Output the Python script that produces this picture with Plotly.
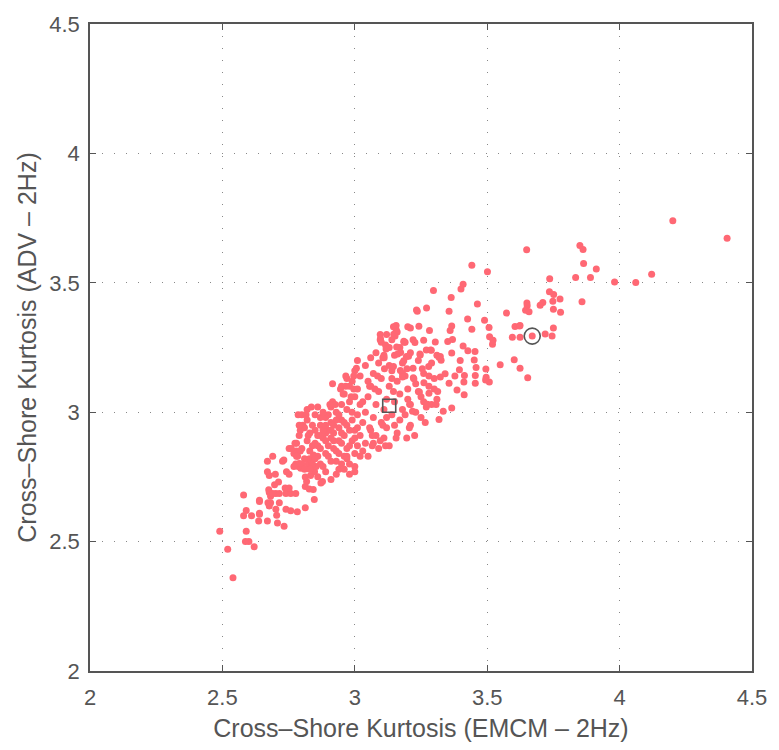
import plotly.graph_objects as go

# ---- data ----
pts = [
# lower tail
(2.49,2.54),(2.52,2.47),(2.54,2.36),(2.58,2.68),(2.59,2.54),(2.60,2.50),(2.587,2.50),(2.62,2.48),
(2.58,2.60),(2.61,2.60),(2.59,2.62),(2.637,2.58),(2.64,2.66),(2.64,2.61),(2.67,2.58),(2.67,2.81),
(2.69,2.83),(2.67,2.77),(2.677,2.755),(2.70,2.76),(2.727,2.81),(2.732,2.815),(2.752,2.86),(2.777,2.80),
(2.787,2.79),(2.742,2.77),(2.752,2.76),(2.712,2.73),(2.697,2.72),(2.677,2.69),(2.682,2.675),(2.675,2.70),
(2.69,2.686),(2.702,2.686),(2.715,2.686),(2.74,2.686),(2.758,2.686),(2.777,2.686),(2.737,2.707),
(2.752,2.707),(2.672,2.65),(2.682,2.65),(2.677,2.638),(2.64,2.655),(2.64,2.606),(2.705,2.602),
(2.708,2.572),(2.733,2.559),(2.702,2.625),(2.715,2.65),(2.74,2.625),(2.758,2.619),(2.783,2.615),
(2.813,2.631),(2.796,2.783),(2.79,2.802),(2.813,2.713),(2.818,2.732),(2.828,2.703),(2.843,2.701),
(2.847,2.663),(2.813,2.75),(2.833,2.755),(2.86,2.751),(2.872,2.726),(2.878,2.732),(2.848,2.77),
(2.834,2.785),(2.854,2.79),(2.824,2.80),(2.829,2.82),(2.844,2.835),(2.779,2.85),(2.794,2.85),
(2.784,2.83),(2.774,2.88),(2.794,2.93),(2.804,2.95),(2.824,2.91),
# dense core
(2.77,2.84),(2.78,2.88),(2.79,2.91),(2.80,2.86),(2.81,2.94),(2.81,2.82),(2.82,2.89),(2.82,2.97),
(2.83,2.85),(2.83,2.92),(2.84,2.80),(2.84,2.95),(2.85,2.88),(2.85,2.99),(2.86,2.83),(2.86,2.91),
(2.87,2.86),(2.87,2.95),(2.88,2.79),(2.88,2.90),(2.89,2.84),(2.89,2.98),(2.90,2.93),(2.90,2.87),
(2.91,2.81),(2.91,2.96),(2.92,2.89),(2.92,2.92),(2.93,2.85),(2.93,3.00),(2.94,2.94),(2.94,2.78),
(2.95,2.88),(2.95,2.97),(2.96,2.83),(2.96,2.91),(2.97,2.86),(2.97,3.01),(2.98,2.93),(2.98,2.80),
(2.99,2.89),(2.99,2.97),(3.00,2.84),(3.00,2.93),(3.01,2.87),(3.01,2.99),(2.80,2.80),(2.81,2.78),
(2.83,2.78),(2.85,2.82),(2.87,2.80),(2.89,2.77),(2.91,2.74),(2.93,2.76),(2.95,2.80),(2.85,2.93),
(2.87,2.98),(2.89,2.92),(2.91,2.90),(2.84,2.87),(2.88,2.93),(2.90,2.99),(2.92,2.95),(2.94,2.89),
(2.96,2.96),(2.98,2.87),(3.00,2.90),(2.79,2.95),(2.80,2.99),(2.82,3.01),(2.86,3.02),(2.88,3.00),
(2.91,3.02),(2.93,2.97),(2.95,2.92),(2.97,2.95),(2.99,3.00),(3.01,2.94),(2.86,2.87),(2.89,2.89),
(2.92,2.86),(2.94,2.84),(2.97,2.82),(2.77,2.79),(2.78,2.83),(2.76,2.86),(2.90,2.83),(2.93,2.81),
(2.96,2.78),(2.98,2.76),(3.00,2.79),(2.94,2.99),(2.95,3.03),(2.98,3.04),(3.00,3.06),(3.02,3.03),
(2.87,2.91),(2.89,2.95),(2.91,2.93),(3.00,2.77),(3.02,2.83),(2.97,2.83),
# upper core
(3.02,2.91),(3.03,2.96),(3.04,3.00),(3.04,2.88),(3.05,3.06),(3.06,2.93),(3.06,3.10),(3.07,2.98),
(3.08,3.03),(3.08,2.91),(3.09,3.08),(3.10,2.96),(3.10,3.13),(3.11,3.01),(3.12,3.05),(3.12,2.94),
(3.13,3.10),(3.14,3.16),(3.14,2.99),(3.15,3.04),(3.16,3.12),(3.16,2.92),(3.17,3.07),(3.18,3.19),
(3.18,3.01),(3.19,3.14),(3.20,3.09),(3.21,3.23),(3.21,3.03),(3.22,3.17),(3.23,3.11),(3.24,3.20),
(3.25,3.06),(3.26,3.15),(3.27,3.24),(3.28,3.10),(3.29,3.19),(3.30,3.13),(3.31,3.22),(3.03,3.04),
(3.05,3.12),(3.07,3.15),(3.09,3.19),(3.11,3.22),(3.13,3.25),(3.01,3.09),(2.99,3.12),(3.02,3.14),
(3.04,3.18),(3.06,3.21),(3.08,3.23),(3.10,3.27),(3.12,3.30),(3.14,3.28),(3.16,3.31),(3.15,3.22),
(3.17,3.25),(3.19,3.27),(3.20,3.33),(3.07,2.88),(3.09,2.86),(3.11,2.90),(3.13,2.87),(3.15,2.95),
(3.17,2.97),(3.19,2.99),(3.21,2.95),(3.23,3.00),(3.25,2.98),(3.27,3.02),(3.29,3.03),(3.31,3.05),
(3.24,3.08),(3.26,3.04),(3.28,3.14),(3.30,3.09),(3.03,2.85),(3.05,2.83),(2.98,3.10),(2.96,3.07),
(2.97,3.13),(3.00,3.16),(3.01,3.20),(2.95,3.10),(3.13,3.18),(3.22,3.28),(3.18,3.15),(3.14,3.13),
(3.20,3.05),(3.12,2.98),
# upper-left edge
(3.006,3.17),(2.996,3.14),(2.966,3.14),(2.916,3.11),(2.966,3.10),(2.946,3.09),(2.956,3.07),(2.986,3.06),
(2.996,3.09),(2.916,3.04),(2.926,3.03),(2.906,3.03),(2.836,3.02),(2.786,2.99),(2.816,2.99),(3.056,3.10),
(3.076,3.09),(3.146,3.08),(3.086,3.14),(3.096,3.28),(3.116,3.26),(3.186,3.27),(3.156,3.32),(3.236,3.39),
(3.106,3.21),(3.096,3.30),(3.146,3.33),
# below the square
(3.156,2.90),(3.196,2.90),(3.116,2.87),(3.106,2.95),(3.206,2.94),(3.226,2.91),(3.266,2.96),(3.096,2.89),
(3.066,2.87),(3.066,2.91),(3.056,2.94),
# right middle
(3.442,3.568),(3.501,3.543),(3.409,3.494),(3.401,3.476),(3.297,3.470),(3.364,3.443),(3.463,3.418),
(3.233,3.395),(3.271,3.403),(3.356,3.390),(3.573,3.383),(3.426,3.360),(3.490,3.355),(3.210,3.325),
(3.242,3.332),(3.282,3.316),(3.366,3.333),(3.360,3.316),(3.442,3.321),(3.507,3.327),(3.605,3.331),
(3.622,3.333),(3.595,3.290),(3.624,3.290),(3.185,3.274),(3.227,3.269),(3.260,3.278),(3.304,3.271),
(3.351,3.273),(3.369,3.281),(3.509,3.292),(3.522,3.278),(3.520,3.263),(3.173,3.231),(3.203,3.216),
(3.247,3.221),(3.286,3.240),(3.323,3.215),(3.366,3.229),(3.409,3.256),(3.427,3.237),(3.454,3.235),
(3.185,3.199),(3.326,3.201),(3.398,3.200),(3.451,3.202),(3.602,3.203),(3.197,3.168),(3.255,3.168),
(3.279,3.177),(3.395,3.164),(3.458,3.173),(3.549,3.183),(3.495,3.167),(3.180,3.136),(3.221,3.133),
(3.261,3.114),(3.323,3.136),(3.341,3.149),(3.378,3.140),(3.414,3.142),(3.455,3.142),(3.508,3.117),
(3.356,3.112),(3.412,3.117),(3.455,3.112),(3.244,3.078),(3.280,3.073),(3.313,3.080),(3.386,3.086),
(3.413,3.067),(3.207,3.031),(3.274,3.031),(3.307,3.030),(3.366,3.016),(3.218,3.004),(3.334,3.004),
(3.318,2.972),(3.156,3.335),(3.147,3.301),(3.152,3.294),(3.097,3.284),(3.118,3.244),(3.158,3.252),
(3.111,3.210),(3.162,3.225),(3.195,3.215),(3.246,3.225),(3.289,3.239),(3.318,3.212),(3.112,3.168),
(3.146,3.177),(3.172,3.161),(3.223,3.129),(3.496,3.135),(3.494,3.124),
# sparse right
(3.649,3.628),(3.850,3.644),(3.862,3.629),(3.864,3.575),(3.912,3.553),(3.834,3.520),(3.890,3.520),
(3.981,3.503),(4.061,3.501),(4.121,3.533),(4.406,3.672),(4.201,3.740),(3.736,3.516),(3.735,3.465),
(3.751,3.455),(3.748,3.429),(3.775,3.437),(3.858,3.427),(3.710,3.424),(3.700,3.413),(3.650,3.422),
(3.651,3.411),(3.645,3.394),(3.658,3.388),(3.750,3.398),(3.777,3.386),(3.624,3.335),(3.750,3.325),
(3.670,3.294),(3.719,3.302),(3.745,3.294),(3.624,3.170),(3.653,3.133),
]
emcm = [p[0] for p in pts]
adv = [p[1] for p in pts]

square_x, square_y = [3.13], [3.025]
circle_x, circle_y = [3.67], [3.294]

ticks = [2, 2.5, 3, 3.5, 4, 4.5]
tick_text = ["2", "2.5", "3", "3.5", "4", "4.5"]

FONT = "Liberation Sans, Arial, Helvetica, sans-serif"
GREY = "#555555"

fig = go.Figure()
fig.add_trace(go.Scatter(x=emcm, y=adv, mode="markers",
                         marker=dict(size=7, color="#ff6874", line=dict(width=0)),
                         showlegend=False, hoverinfo="skip"))
fig.add_trace(go.Scatter(x=square_x, y=square_y, mode="markers",
                         marker=dict(symbol="square-open", size=13, color=GREY,
                                     line=dict(width=1.6)), showlegend=False))
fig.add_trace(go.Scatter(x=circle_x, y=circle_y, mode="markers",
                         marker=dict(symbol="circle-open", size=16, color=GREY,
                                     line=dict(width=1.6)), showlegend=False))

axis_common = dict(
    range=[2, 4.5], tickvals=ticks, ticktext=tick_text, showgrid=True, gridcolor="#888888",
    griddash="1px,11px", gridwidth=1, zeroline=False, showline=True,
    linecolor=GREY, linewidth=1.5, mirror="ticks", ticks="inside",
    ticklen=6, tickcolor=GREY,
    tickfont=dict(family=FONT, size=22, color=GREY),
)
fig.update_xaxes(title=dict(text="Cross\u2013Shore Kurtosis (EMCM \u2013 2Hz)",
                 font=dict(family=FONT, size=25, color=GREY), standoff=10),
                 ticklabelstandoff=6, **axis_common)
fig.update_yaxes(title=dict(text="Cross\u2013Shore Kurtosis (ADV \u2013 2Hz)",
                 font=dict(family=FONT, size=25, color=GREY), standoff=6),
                 ticklabelstandoff=4, **axis_common)
fig.update_layout(width=779, height=750, plot_bgcolor="white", paper_bgcolor="white",
                  margin=dict(l=90, r=24, t=14, b=75))
fig.write_html("out.html")
